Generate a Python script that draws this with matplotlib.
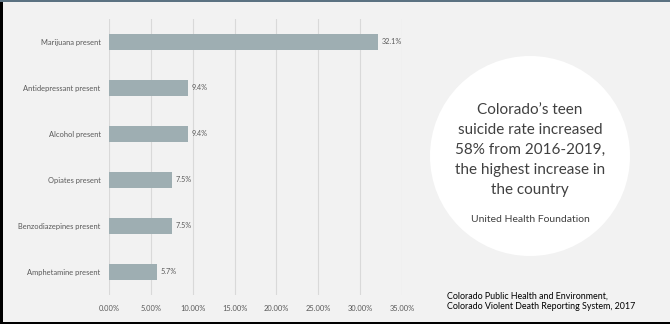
import matplotlib
matplotlib.use("Agg")
import matplotlib.pyplot as plt
from matplotlib.patches import Ellipse, Rectangle
from matplotlib.ticker import FuncFormatter, MultipleLocator

plt.rcParams["font.family"] = ["Lato", "DejaVu Sans"]

categories = ["Marijuana present", "Antidepressant present", "Alcohol present",
              "Opiates present", "Benzodiazepines present", "Amphetamine present"]
values = [32.1, 9.4, 9.4, 7.5, 7.5, 5.7]
value_labels = ["32.1%", "9.4%", "9.4%", "7.5%", "7.5%", "5.7%"]

callout_lines = ["Colorado\u2019s teen", "suicide rate increased",
                 "58% from 2016-2019,", "the highest increase in", "the country"]
callout_source = "United Health Foundation"
chart_source = ("Colorado Public Health and Environment,\n"
                "Colorado Violent Death Reporting System, 2017")

W, H = 670, 324
bg = "#f2f2f2"
bar_color = "#9eaeb2"
label_color = "#595959"

fig = plt.figure(figsize=(W / 100, H / 100), dpi=100)
fig.patch.set_facecolor(bg)

# axes box in pixels: x 109..402, y 19..295 (from top)
ax = fig.add_axes([109 / W, 1 - 295 / H, (402 - 109) / W, (295 - 19) / H])
ax.set_facecolor(bg)

y = list(range(len(categories)))
ax.barh(y, values, height=0.35, color=bar_color, zorder=2)
for yi, v, lab in zip(y, values, value_labels):
    ax.text(v + 0.45, yi, lab, va="center", ha="left", fontsize=5.2,
            color=label_color)

ax.set_xlim(0, 35)
ax.set_ylim(len(categories) - 0.5, -0.5)
ax.xaxis.set_major_locator(MultipleLocator(5))
ax.xaxis.set_major_formatter(FuncFormatter(lambda v, _: f"{v:.2f}%"))
ax.grid(axis="x", color="#d9d9d9", linewidth=0.8, zorder=0)
ax.set_yticks(y)
ax.set_yticklabels(categories)
ax.tick_params(axis="both", length=0, labelsize=5.4, labelcolor=label_color)
ax.tick_params(axis="x", pad=7)
ax.tick_params(axis="y", pad=6)
for s in ax.spines.values():
    s.set_visible(False)

# white callout circle
cx, cy, r = 530, 156, 100
fig.add_artist(Ellipse((cx / W, 1 - cy / H), 2 * r / W, 2 * r / H,
                       transform=fig.transFigure, facecolor="white",
                       edgecolor="none"))
for i, line in enumerate(callout_lines):
    fig.text(cx / W, 1 - (110 + 20 * i) / H, line, ha="center", va="center",
             fontsize=11, color="#404040")
fig.text(cx / W, 1 - 220 / H, callout_source, ha="center", va="center",
         fontsize=7.5, color="#404040")

fig.text(447 / W, 1 - 301 / H, chart_source, ha="left", va="center",
         fontsize=6.4, color="black", linespacing=1.15)

# frame strips
fig.add_artist(Rectangle((0, 0), 3 / W, 1, transform=fig.transFigure,
                         facecolor="black", edgecolor="none"))
fig.add_artist(Rectangle((0, 1 - 2 / H), 1, 2 / H, transform=fig.transFigure,
                         facecolor="#5b7282", edgecolor="none"))
fig.add_artist(Rectangle((0, 0), 1, 2 / H, transform=fig.transFigure,
                         facecolor="black", edgecolor="none"))

fig.savefig("out.png", dpi=100, facecolor=bg)
